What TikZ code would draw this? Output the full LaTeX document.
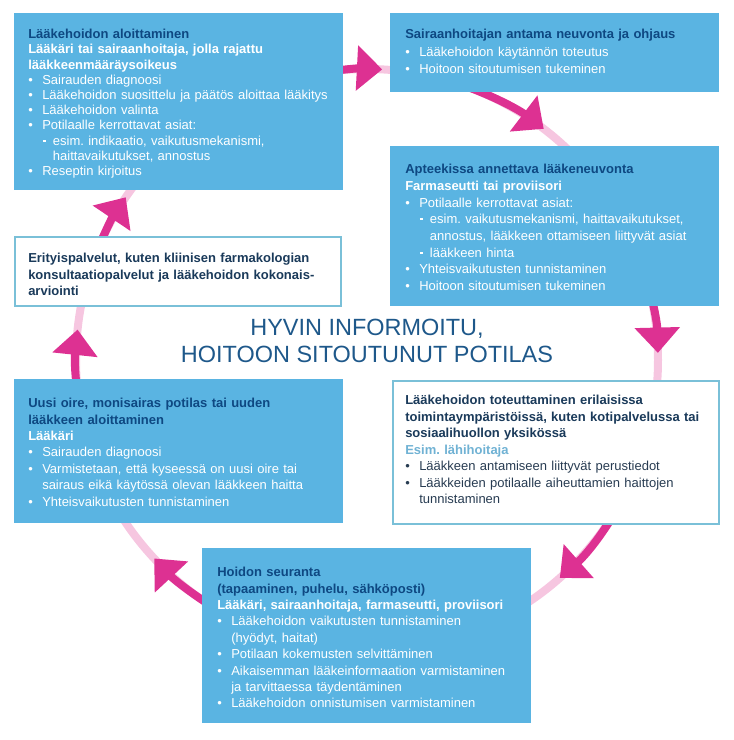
\documentclass[tikz,border=0pt]{standalone}
\usepackage{fontspec}
\setmainfont{Liberation Sans}
\usetikzlibrary{arrows.meta}

\definecolor{boxblue}{RGB}{90,180,226}
\definecolor{ttlblue}{RGB}{14,72,130}
\definecolor{navy}{RGB}{26,58,90}
\definecolor{bodydark}{RGB}{40,60,82}
\definecolor{edgeblue}{RGB}{122,192,216}
\definecolor{rolelight}{RGB}{112,178,212}
\definecolor{centerblue}{RGB}{30,88,138}
\definecolor{arrowpink}{RGB}{221,49,146}
\definecolor{ringpink}{RGB}{246,198,224}

\newcommand{\bul}[1]{\par\hangindent=10.5pt\hangafter=1\noindent\makebox[10.5pt][l]{\textbullet}#1}
\newcommand{\subbul}[1]{\par\hangindent=18.5pt\hangafter=1\noindent\hspace*{11pt}\makebox[7.5pt][l]{\rule[0.27em]{0.25em}{0.13em}}#1}

\begin{document}
\begin{tikzpicture}[x=0.75pt,y=-0.75pt,
  bluebox/.style={fill=boxblue,minimum width=246.75pt,anchor=north west,inner sep=0pt},
  whitebox/.style={fill=white,draw=edgeblue,line width=1.2pt,minimum width=244.5pt,anchor=north west,inner sep=0pt},
  txt/.style={anchor=north west,inner sep=0pt,text width=250pt,align=left,text=white,
    font=\fontsize{9.75}{12.3}\selectfont},
  flow/.style={draw=arrowpink,line width=6pt,-{Triangle[width=33pt,length=19pt]}}]
  \useasboundingbox (0,0) rectangle (734,740);
  \coordinate (mid) at (367,360);
  \draw[ringpink,line width=6pt] (mid) circle[radius=291];
  \draw[flow] ([shift={(-100:291)}]mid) arc[start angle=-100,end angle=-87,radius=291];
  \draw[flow] ([shift={(-72:291)}]mid) arc[start angle=-72,end angle=-52.6,radius=291];
  \draw[flow] ([shift={(-20:291)}]mid) arc[start angle=-20,end angle=-1.4,radius=291];
  \draw[flow] ([shift={(25:291)}]mid) arc[start angle=25,end angle=48.5,radius=291];
  \draw[flow] ([shift={(120:291)}]mid) arc[start angle=120,end angle=137,radius=291];
  \draw[flow] ([shift={(165:291)}]mid) arc[start angle=165,end angle=186,radius=291];
  \draw[flow] ([shift={(200:291)}]mid) arc[start angle=200,end angle=214,radius=291];

  \node[bluebox,minimum height=132.75pt] (start) at (14,13) {};
  \node[bluebox,minimum height=59.25pt] (neuvonta) at (390,13) {};
  \node[bluebox,minimum height=120pt] (apteekki) at (390,146) {};
  \node[whitebox,minimum height=51.75pt] (erityis) at (14,236) {};
  \node[bluebox,minimum height=108pt] (uusi) at (14,379) {};
  \node[whitebox,minimum height=107.25pt] (toteutus) at (392,380) {};
  \node[bluebox,minimum height=131.25pt] (seuranta) at (202,548) {};

  \node[txt,font=\fontsize{9.75}{11.4}\selectfont] (starttext) at ([shift={(14,16)}]start.north west) {%
    {\bfseries\color{ttlblue}Lääkehoidon aloittaminen}\par
    {\bfseries Lääkäri tai sairaanhoitaja, jolla rajattu\newline lääkkeenmääräysoikeus}
    \bul{Sairauden diagnoosi}
    \bul{Lääkehoidon suosittelu ja päätös aloittaa lääkitys}
    \bul{Lääkehoidon valinta}
    \bul{Potilaalle kerrottavat asiat:}
    \subbul{esim.\ indikaatio, vaikutusmekanismi,\newline haittavaikutukset, annostus}
    \bul{Reseptin kirjoitus}\par};
  \node[txt,font=\fontsize{9.75}{13}\selectfont] (neuvontatext) at ([shift={(15,16)}]neuvonta.north west) {%
    {\bfseries\color{ttlblue}Sairaanhoitajan antama neuvonta ja ohjaus}
    \bul{Lääkehoidon käytännön toteutus}
    \bul{Hoitoon sitoutumisen tukeminen}\par};
  \node[txt,font=\fontsize{9.75}{12.5}\selectfont] (apteekkitext) at ([shift={(15,18)}]apteekki.north west) {%
    {\bfseries\color{ttlblue}Apteekissa annettava lääkeneuvonta}\par
    {\bfseries Farmaseutti tai proviisori}
    \bul{Potilaalle kerrottavat asiat:}
    \subbul{esim.\ vaikutusmekanismi, haittavaikutukset,\newline annostus, lääkkeen ottamiseen liittyvät asiat}
    \subbul{lääkkeen hinta}
    \bul{Yhteisvaikutusten tunnistaminen}
    \bul{Hoitoon sitoutumisen tukeminen}\par};
  \node[txt,text=navy] (erityistext) at ([shift={(14,17)}]erityis.north west) {%
    \bfseries Erityispalvelut, kuten kliinisen farmakologian\newline
    konsultaatiopalvelut ja lääkehoidon kokonais-\newline arviointi};
  \node[txt] (uusitext) at ([shift={(14,19)}]uusi.north west) {%
    {\bfseries\color{ttlblue}Uusi oire, monisairas potilas tai uuden\newline lääkkeen aloittaminen}\par
    {\bfseries Lääkäri}
    \bul{Sairauden diagnoosi}
    \bul{Varmistetaan, että kyseessä on uusi oire tai\newline sairaus eikä käytössä olevan lääkkeen haitta}
    \bul{Yhteisvaikutusten tunnistaminen}\par};
  \node[txt,text=bodydark,font=\fontsize{9.75}{12.4}\selectfont] (toteutustext) at ([shift={(13,15)}]toteutus.north west) {%
    {\bfseries\color{navy}Lääkehoidon toteuttaminen erilaisissa\newline
    toimintaympäristöissä, kuten kotipalvelussa tai\newline sosiaalihuollon yksikössä}\par
    {\bfseries\color{rolelight}Esim.\ lähihoitaja}
    \bul{Lääkkeen antamiseen liittyvät perustiedot}
    \bul{Lääkkeiden potilaalle aiheuttamien haittojen\newline tunnistaminen}\par};
  \node[txt] (seurantatext) at ([shift={(15,19)}]seuranta.north west) {%
    {\bfseries\color{ttlblue}Hoidon seuranta\newline (tapaaminen, puhelu, sähköposti)}\par
    {\bfseries Lääkäri, sairaanhoitaja, farmaseutti, proviisori}
    \bul{Lääkehoidon vaikutusten tunnistaminen\newline (hyödyt, haitat)}
    \bul{Potilaan kokemusten selvittäminen}
    \bul{Aikaisemman lääkeinformaation varmistaminen\newline ja tarvittaessa täydentäminen}
    \bul{Lääkehoidon onnistumisen varmistaminen}\par};

  \node[align=center,text=centerblue,font=\fontsize{17.6}{19.8}\selectfont] (potilas) at (367,341)
    {HYVIN INFORMOITU,\\HOITOON SITOUTUNUT POTILAS};
\end{tikzpicture}
\end{document}
